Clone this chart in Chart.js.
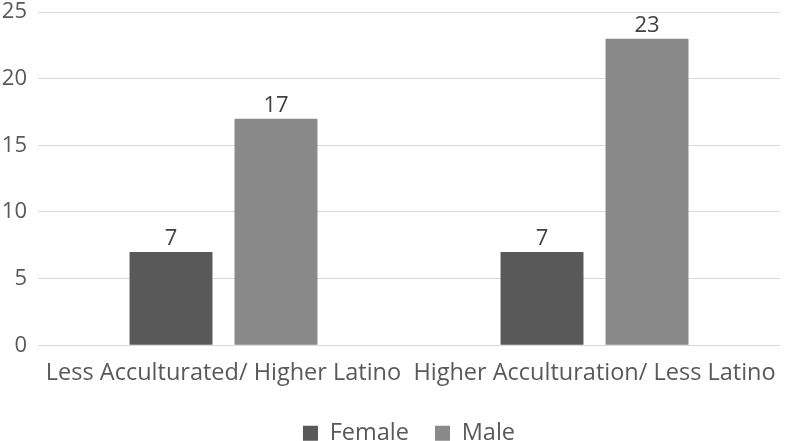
<!DOCTYPE html>
<html>
<head>
<meta charset="utf-8">
<script src="https://cdn.jsdelivr.net/npm/chart.js@4"></script>
<style>
  html, body { margin: 0; padding: 0; background: #fff; }
  #wrap { width: 792px; height: 441px; }
</style>
</head>
<body>
<div id="wrap"><canvas id="grafik" width="792" height="441"></canvas></div>
<script>
const categories = ['Less Acculturated/ Higher Latino', 'Higher Acculturation/ Less Latino'];
const female = [7, 7];
const male = [17, 23];
const yTicks = [0, 5, 10, 15, 20, 25];

const fontFamily = '"Open Sans", sans-serif';

// simple value labels on top of the bars
const valueLabels = {
  id: 'valueLabels',
  afterDatasetsDraw(chart) {
    const ctx = chart.ctx;
    ctx.save();
    ctx.font = '22px ' + fontFamily;
    ctx.fillStyle = '#404040';
    ctx.textAlign = 'center';
    ctx.textBaseline = 'bottom';
    chart.data.datasets.forEach((ds, i) => {
      chart.getDatasetMeta(i).data.forEach((bar, j) => {
        ctx.fillText(ds.data[j], bar.x, bar.y - 2);
      });
    });
    ctx.restore();
  }
};

// centre the legend under the plot area instead of the whole canvas
const legendShift = {
  id: 'legendShift',
  afterLayout(chart) {
    const lg = chart.legend;
    if (!lg) return;
    const shift = (chart.chartArea.left + chart.chartArea.right) / 2 - (lg.left + lg.right) / 2;
    lg.left += shift;
    lg.right += shift;
  }
};

new Chart(
  document.getElementById('grafik'),
  {
    type: 'bar',
    data: {
      labels: categories,
      datasets: [
        {
          label: 'Female',
          data: female,
          backgroundColor: '#595959',
          barPercentage: 0.79,
          categoryPercentage: 0.566
        },
        {
          label: 'Male',
          data: male,
          backgroundColor: '#898989',
          barPercentage: 0.79,
          categoryPercentage: 0.566
        }
      ]
    },
    options: {
      responsive: false,
      animation: false,
      layout: {
        padding: { top: 12, right: 12, bottom: -14, left: 0 }
      },
      plugins: {
        legend: {
          position: 'bottom',
          labels: {
            color: '#595959',
            font: { family: fontFamily, size: 23.5 },
            boxWidth: 15,
            boxHeight: 15,
            padding: 26
          }
        },
        tooltip: { enabled: false }
      },
      scales: {
        x: {
          afterFit: axis => { axis.height += 2; },
          grid: { display: false },
          border: { display: false },
          ticks: {
            color: '#595959',
            font: { family: fontFamily, size: 23.5 },
            padding: 6,
            maxRotation: 0
          }
        },
        y: {
          min: 0,
          max: 25,
          afterBuildTicks: axis => {
            axis.ticks = yTicks.map(v => ({ value: v }));
          },
          afterFit: axis => {
            axis.width = 38;
            axis.paddingTop = 0;
          },
          grid: { color: '#d9d9d9', lineWidth: 1, drawTicks: false },
          border: { display: false },
          ticks: {
            color: '#595959',
            font: { family: fontFamily, size: 22 },
            padding: 11
          }
        }
      }
    },
    plugins: [valueLabels, legendShift]
  }
);
</script>
</body>
</html>
